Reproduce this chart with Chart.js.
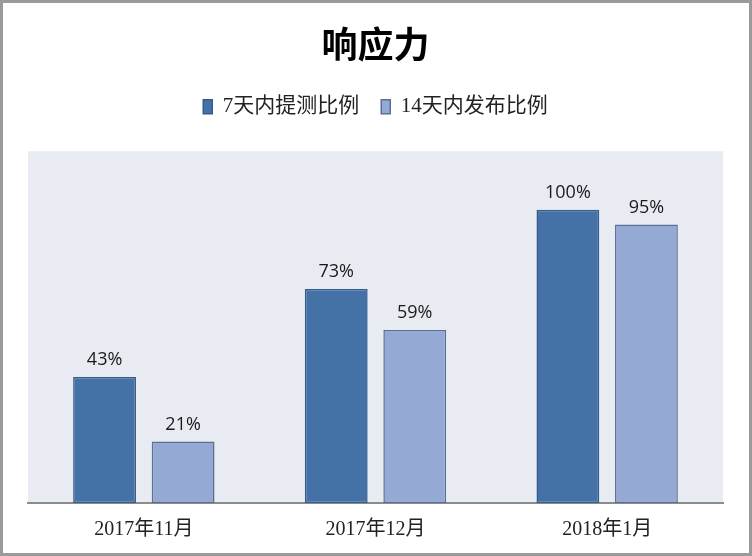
<!DOCTYPE html>
<html>
<head>
<meta charset="utf-8">
<script src="https://cdn.jsdelivr.net/npm/chart.js@4"></script>
<style>
  html, body { margin: 0; padding: 0; background: #fff; }
  #wrap { width: 752px; height: 556px; position: relative; }
</style>
</head>
<body>
<div id="wrap"><canvas id="chart" width="752" height="556"></canvas></div>
<script>
// chart data
const categories = ['2017年11月', '2017年12月', '2018年1月'];
const seriesNames = ['7天内提测比例', '14天内发布比例'];
const testWithin7 = [43, 73, 100];
const releaseWithin14 = [21, 59, 95];

const serif = '"Liberation Serif", "Noto Sans CJK SC", serif';

// light lavender plot background + outer frame
const backdrop = {
    id: 'backdrop',
    beforeDraw(chart) {
        const { ctx, chartArea } = chart;
        ctx.save();
        ctx.fillStyle = '#ffffff';
        ctx.fillRect(0, 0, chart.width, chart.height);
        ctx.fillStyle = '#e9ebf3';
        ctx.fillRect(chartArea.left, chartArea.top, chartArea.right - chartArea.left, chartArea.bottom - chartArea.top);
        ctx.restore();
    },
    afterDraw(chart) {
        const ctx = chart.ctx;
        ctx.save();
        ctx.strokeStyle = '#9a9a9a';
        ctx.lineWidth = 3;
        ctx.strokeRect(1.5, 1.5, chart.width - 3, chart.height - 3);
        ctx.restore();
    }
};

// extra room under the legend
const legendGap = {
    id: 'legendGap',
    beforeInit(chart) {
        const origFit = chart.legend.fit;
        chart.legend.fit = function () {
            origFit.call(this);
            this.height += 24;
        };
    }
};

// percent labels above each bar
const barLabels = {
    id: 'barLabels',
    afterDatasetsDraw(chart) {
        const ctx = chart.ctx;
        ctx.save();
        ctx.fillStyle = '#1a1a1a';
        ctx.font = '18px "Open Sans", "Liberation Sans", sans-serif';
        ctx.textAlign = 'center';
        ctx.textBaseline = 'bottom';
        chart.data.datasets.forEach((ds, i) => {
            chart.getDatasetMeta(i).data.forEach((bar, j) => {
                ctx.fillText(ds.data[j] + '%', bar.x, bar.y - 8);
            });
        });
        ctx.restore();
    }
};

new Chart(document.getElementById('chart'), {
    type: 'bar',
    data: {
        labels: categories,
        datasets: [{
            label: seriesNames[0],
            data: testWithin7,
            backgroundColor: '#4471a6',
            borderColor: '#365c8c',
            borderWidth: 1.5,
            borderSkipped: false,
        }, {
            label: seriesNames[1],
            data: releaseWithin14,
            backgroundColor: '#94aad4',
            borderColor: '#5b6f95',
            borderWidth: 1.5,
            borderSkipped: false,
        }]
    },
    options: {
        responsive: false,
        animation: false,
        categoryPercentage: 0.678,
        barPercentage: 0.8,
        layout: {
            padding: { top: 23, left: 28, right: 29, bottom: 7 }
        },
        plugins: {
            title: {
                display: true,
                text: '响应力',
                color: '#000',
                font: { size: 36, weight: 'bold', family: '"Noto Sans CJK SC", sans-serif' },
                padding: { top: 0, bottom: 8 }
            },
            legend: {
                display: true,
                labels: {
                    color: '#222',
                    boxWidth: 9,
                    boxHeight: 14,
                    padding: 22,
                    font: { size: 21, family: serif }
                }
            },
            tooltip: { enabled: false }
        },
        scales: {
            y: {
                display: false,
                min: 0,
                max: 120
            },
            x: {
                grid: { display: false },
                border: { display: true, color: '#8c8c8c', width: 2 },
                ticks: {
                    color: '#222',
                    padding: 7,
                    font: { size: 20, family: serif }
                }
            }
        }
    },
    plugins: [backdrop, legendGap, barLabels]
});
</script>
</body>
</html>
